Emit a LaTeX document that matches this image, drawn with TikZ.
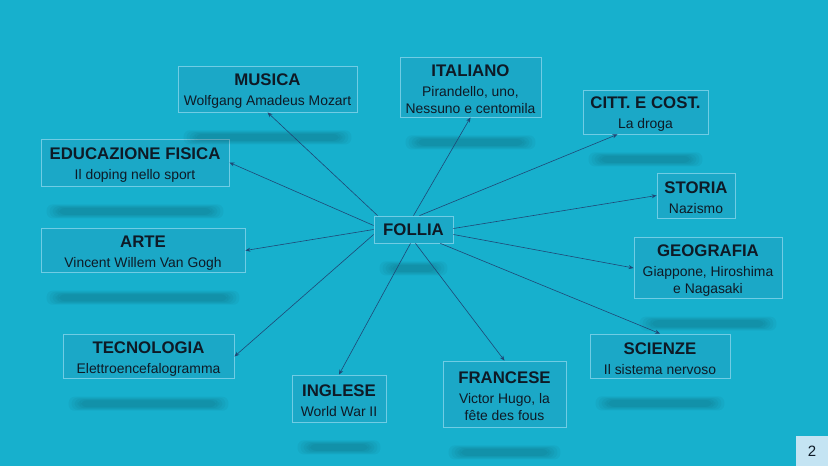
\documentclass[tikz,border=0pt]{standalone}
\usepackage{fontspec}
\setmainfont{Liberation Sans}
\usetikzlibrary{arrows.meta}

\definecolor{slidebg}{RGB}{23,176,205}
\definecolor{boxfill}{RGB}{27,168,199}
\definecolor{boxline}{RGB}{112,204,228}
\definecolor{linkcol}{RGB}{31,72,118}
\definecolor{inkcol}{RGB}{14,26,38}
\definecolor{pagefill}{RGB}{196,228,243}

\newcommand{\subj}[2]{{\fontsize{16.8}{19}\selectfont\bfseries\rule{0pt}{16.5pt}#1}\\[3.5pt] #2}

\tikzset{
  subject/.style={draw=boxline, line width=0.8pt, fill=boxfill, text=inkcol,
    align=center, inner sep=2pt, font=\fontsize{13.9}{16.8}\selectfont},
  link/.style={draw=linkcol, line width=0.6pt, -{Stealth[length=5pt,width=4pt]}},
  bar/.style={fill=black, opacity=0.035, rounded corners=6pt}
}

\begin{document}
\begin{tikzpicture}[x=1pt,y=-1pt]
\fill[slidebg] (0,0) rectangle (828,466);
\useasboundingbox (0,0) rectangle (828,466);

% boxes
\node[subject, minimum width=179pt, minimum height=46pt] (musica)     at (267.5,89)  {\subj{MUSICA}{Wolfgang Amadeus Mozart}};
\node[subject, minimum width=141pt, minimum height=60pt] (italiano)   at (470.5,87)  {\subj{ITALIANO}{Pirandello, uno,\\ Nessuno e centomila}};
\node[subject, minimum width=125pt, minimum height=44pt] (citt)       at (645.5,112) {\subj{CITT. E COST.}{La droga}};
\node[subject, minimum width=188pt, minimum height=47pt] (educazione) at (135,162.5)  {\subj{EDUCAZIONE FISICA}{Il doping nello sport}};
\node[subject, minimum width=78pt,  minimum height=45pt] (storia)     at (696,195.5) {\subj{STORIA}{Nazismo}};
\node[subject, minimum width=79pt,  minimum height=27pt] (follia)     at (413.5,229.5) {{\fontsize{16.8}{19}\selectfont\bfseries FOLLIA}};
\node[subject, minimum width=204pt, minimum height=43pt] (arte)       at (143,250.5) {\subj{ARTE}{Vincent Willem Van Gogh}};
\node[subject, minimum width=148pt, minimum height=60pt] (geografia)  at (708,268)   {\subj{GEOGRAFIA}{Giappone, Hiroshima\\ e Nagasaki}};
\node[subject, minimum width=171pt, minimum height=43pt] (tecnologia) at (148.5,356.5) {\subj{TECNOLOGIA}{Elettroencefalogramma}};
\node[subject, minimum width=140pt, minimum height=44pt] (scienze)    at (660,356)   {\subj{SCIENZE}{Il sistema nervoso}};
\node[subject, minimum width=94pt,  minimum height=47pt] (inglese)    at (339,398.5) {\subj{INGLESE}{World War II}};
\node[subject, minimum width=123pt, minimum height=66pt] (francese)   at (504.5,394) {\subj{FRANCESE}{Victor Hugo, la\\ f\^ete des fous}};

% soft bars under the boxes
\foreach \n in {musica,italiano,citt,educazione,follia,arte,geografia,tecnologia,scienze,inglese,francese}{
  \foreach \s in {0,3,6,9,12}{
    \fill[bar] ([xshift=6pt+\s pt,yshift=-18pt-0.3*\s pt]\n.south west) rectangle ([xshift=-6pt-\s pt,yshift=-32pt+0.3*\s pt]\n.south east);
  }
}

% links
\draw[link] ([xshift=4pt]follia.north west) -- (musica.south);
\draw[link] (follia.north) -- (italiano.south);
\draw[link] ([xshift=6pt]follia.north) -- ([xshift=-28pt]citt.south);
\draw[link] ([yshift=4pt]follia.west) -- (educazione.east);
\draw[link] ([yshift=1pt]follia.east) -- (storia.west);
\draw[link] (follia.west) -- (arte.east);
\draw[link] ([yshift=-5pt]follia.east) -- (geografia.west);
\draw[link] ([yshift=-5pt]follia.west) -- (tecnologia.east);
\draw[link] ([xshift=-13pt]follia.south east) -- (scienze.north);
\draw[link] ([xshift=-3pt]follia.south) -- (inglese.north);
\draw[link] ([xshift=2pt]follia.south) -- (francese.north);

% page number
\node[fill=pagefill, text=inkcol, minimum width=32pt, minimum height=30pt, inner sep=0pt,
  font=\fontsize{15}{18}\selectfont] (page) at (812,451) {2};
\end{tikzpicture}
\end{document}
